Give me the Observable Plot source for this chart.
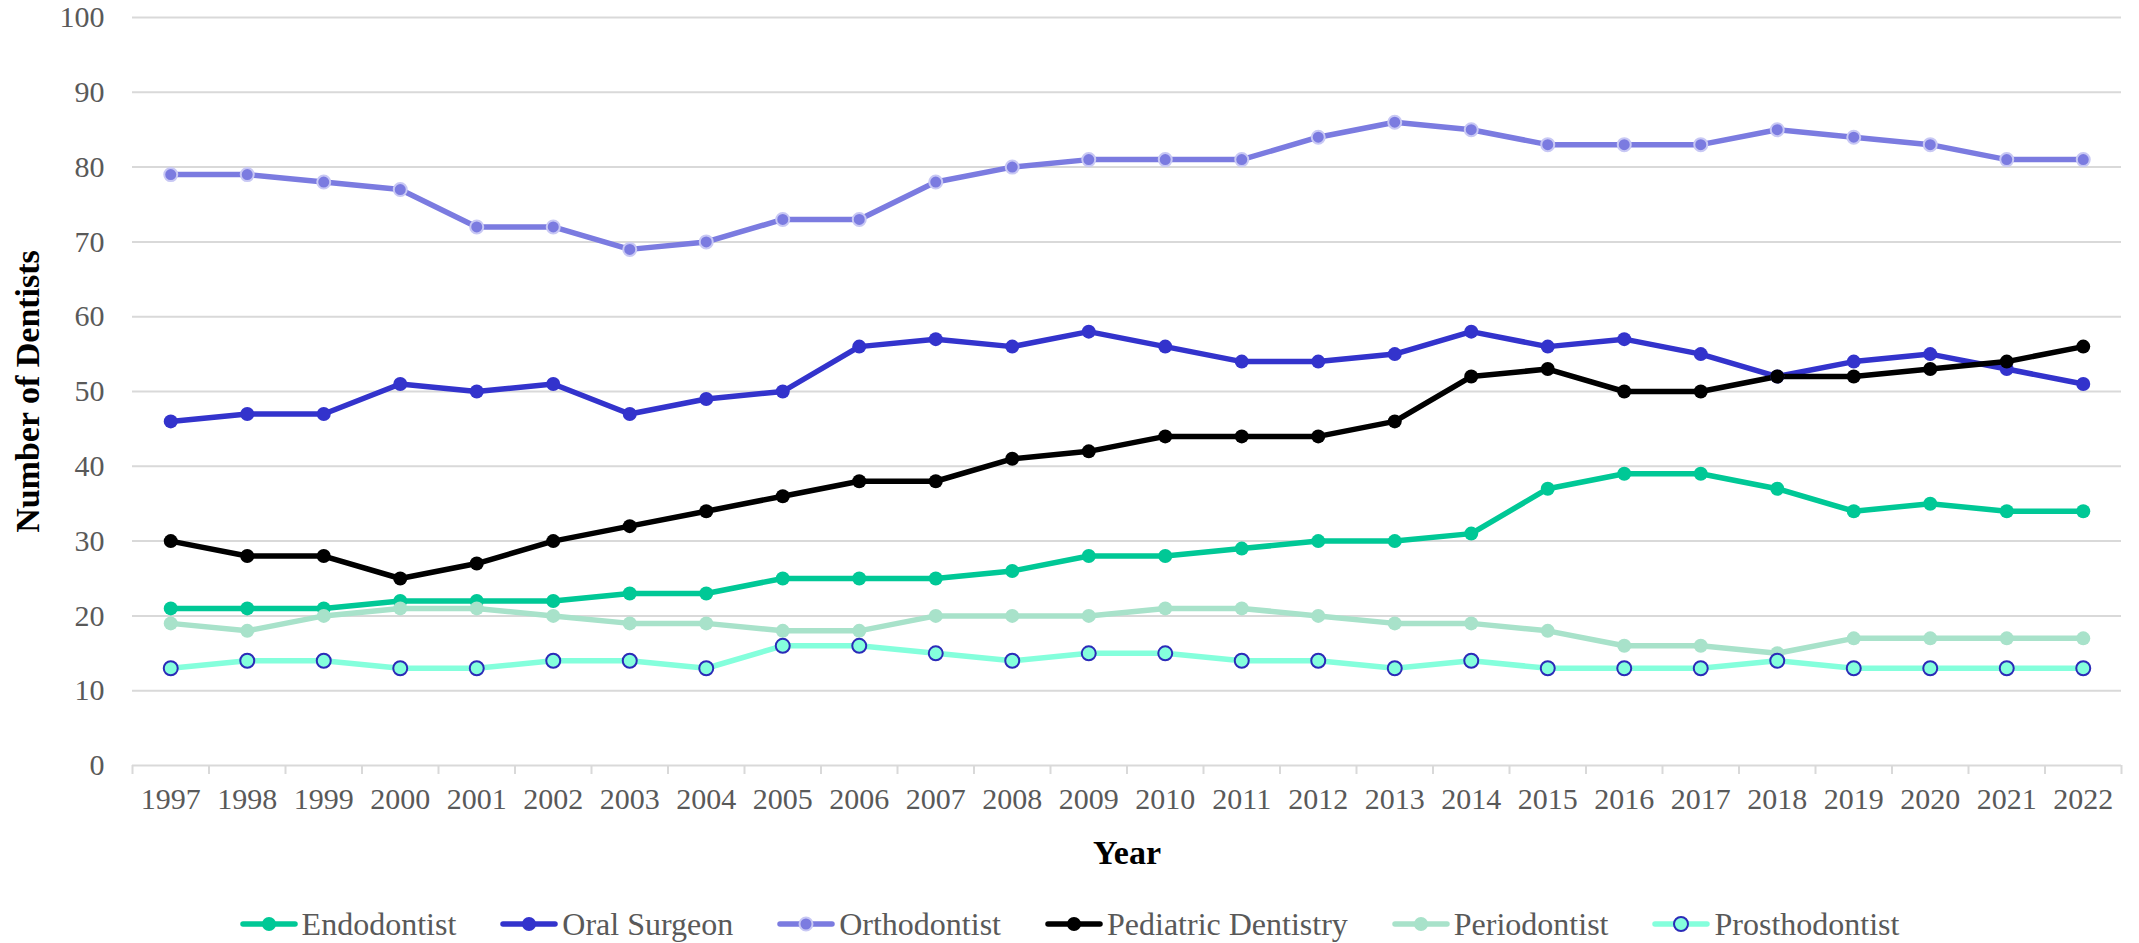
<!DOCTYPE html>
<html>
<head>
<meta charset="utf-8">
<script src="https://cdn.jsdelivr.net/npm/d3@7"></script>
<script src="https://cdn.jsdelivr.net/npm/@observablehq/plot@0.6"></script>
<style>
  html, body { margin: 0; padding: 0; background: #fff; }
  #chart svg { display: block; }
  #legend { display: flex; justify-content: center; align-items: center; gap: 44px; height: 48px;
            font-family: "Liberation Serif", "Times New Roman", serif; font-size: 32px; line-height: 1; color: #595959; }
  .item { display: flex; align-items: center; gap: 4px; }
</style>
</head>
<body>
<div id="chart"></div>
<div id="legend"></div>
<script>
const years = [1997,1998,1999,2000,2001,2002,2003,2004,2005,2006,2007,2008,2009,2010,2011,2012,2013,2014,2015,2016,2017,2018,2019,2020,2021,2022];
const seriesNames = ["Endodontist","Oral Surgeon","Orthodontist","Pediatric Dentistry","Periodontist","Prosthodontist"];
const endodontist   = [21,21,21,22,22,22,23,23,25,25,25,26,28,28,29,30,30,31,37,39,39,37,34,35,34,34];
const oralSurgeon   = [46,47,47,51,50,51,47,49,50,56,57,56,58,56,54,54,55,58,56,57,55,52,54,55,53,51];
const orthodontist  = [79,79,78,77,72,72,69,70,73,73,78,80,81,81,81,84,86,85,83,83,83,85,84,83,81,81];
const pediatric     = [30,28,28,25,27,30,32,34,36,38,38,41,42,44,44,44,46,52,53,50,50,52,52,53,54,56];
const periodontist  = [19,18,20,21,21,20,19,19,18,18,20,20,20,21,21,20,19,19,18,16,16,15,17,17,17,17];
const prosthodontist= [13,14,14,13,13,14,14,13,16,16,15,14,15,15,14,14,13,14,13,13,13,14,13,13,13,13];
const yTicks = [0,10,20,30,40,50,60,70,80,90,100];

const styles = {
  "Endodontist":         {line: "#00C896", fill: "#00C896", stroke: "#00C896", r: 7, sw: 0},
  "Oral Surgeon":        {line: "#3333CC", fill: "#3333CC", stroke: "#3333CC", r: 7, sw: 0},
  "Orthodontist":        {line: "#7B7BE0", fill: "#7B7BE0", stroke: "#C8C8F4", r: 6.5, sw: 2},
  "Pediatric Dentistry": {line: "#000000", fill: "#000000", stroke: "#000000", r: 7, sw: 0},
  "Periodontist":        {line: "#A8E2CA", fill: "#A8E2CA", stroke: "#A8E2CA", r: 7, sw: 0},
  "Prosthodontist":      {line: "#84FFDC", fill: "#84FFDC", stroke: "#2B2BB8", r: 7, sw: 2}
};
const valueLists = [endodontist, oralSurgeon, orthodontist, pediatric, periodontist, prosthodontist];
const data = [];
seriesNames.forEach((s, i) => years.forEach((y, j) => data.push({series: s, year: y, value: valueLists[i][j]})));

const bounds = years.map(y => y - 0.5).concat([years[years.length - 1] + 0.5]);
const font = '"Liberation Serif", "Times New Roman", serif';

const marks = [
  Plot.ruleY(yTicks.filter(d => d > 0), {stroke: "#D9D9D9", strokeWidth: 2}),
  Plot.ruleY([0], {stroke: "#D9D9D9", strokeWidth: 2}),
  Plot.axisX({ticks: bounds, tickSize: 9, tickFormat: () => "", stroke: "#D9D9D9", strokeWidth: 2, label: null}),
  Plot.axisX({ticks: years, tickSize: 0, tickPadding: 22, tickFormat: d => String(d), fontSize: 30, fill: "#595959",
              label: "Year", labelAnchor: "center", labelArrow: "none", labelOffset: 98}),
  Plot.axisY({ticks: yTicks, tickSize: 0, tickPadding: 28, fontSize: 30, fill: "#595959",
              label: "Number of Dentists", labelAnchor: "center", labelArrow: "none", labelOffset: 118}),
];
seriesNames.forEach(s => {
  const st = styles[s];
  const sub = data.filter(d => d.series === s);
  marks.push(Plot.line(sub, {x: "year", y: "value", stroke: st.line, strokeWidth: 5.5, strokeLinejoin: "round"}));
});
seriesNames.forEach(s => {
  const st = styles[s];
  const sub = data.filter(d => d.series === s);
  marks.push(Plot.dot(sub, {x: "year", y: "value", r: st.r, fill: st.fill, stroke: st.stroke, strokeWidth: st.sw}));
});

const chart = Plot.plot({
  width: 2139,
  height: 900,
  marginLeft: 132,
  marginRight: 18,
  marginTop: 17,
  marginBottom: 135,
  style: {fontFamily: font, background: "#fff"},
  x: {type: "linear", domain: [bounds[0], bounds[bounds.length - 1]]},
  y: {domain: [0, 100]},
  marks
});
chart.querySelectorAll('[aria-label="x-axis label"] text, [aria-label="y-axis label"] text').forEach(t => {
  t.setAttribute("font-weight", "bold");
  t.setAttribute("fill", "#000");
  t.setAttribute("font-size", "34");
});
document.getElementById("chart").appendChild(chart);

const legend = document.getElementById("legend");
seriesNames.forEach(s => {
  const st = styles[s];
  const item = document.createElement("div");
  item.className = "item";
  const sw = d3.create("svg").attr("width", 58).attr("height", 20);
  sw.append("line").attr("x1", 3).attr("x2", 55).attr("y1", 10).attr("y2", 10)
    .attr("stroke", st.line).attr("stroke-width", 5.5).attr("stroke-linecap", "round");
  sw.append("circle").attr("cx", 29).attr("cy", 10).attr("r", st.r)
    .attr("fill", st.fill).attr("stroke", st.sw ? st.stroke : "none").attr("stroke-width", st.sw);
  item.appendChild(sw.node());
  const label = document.createElement("span");
  label.textContent = s;
  item.appendChild(label);
  legend.appendChild(item);
});
</script>
</body>
</html>
